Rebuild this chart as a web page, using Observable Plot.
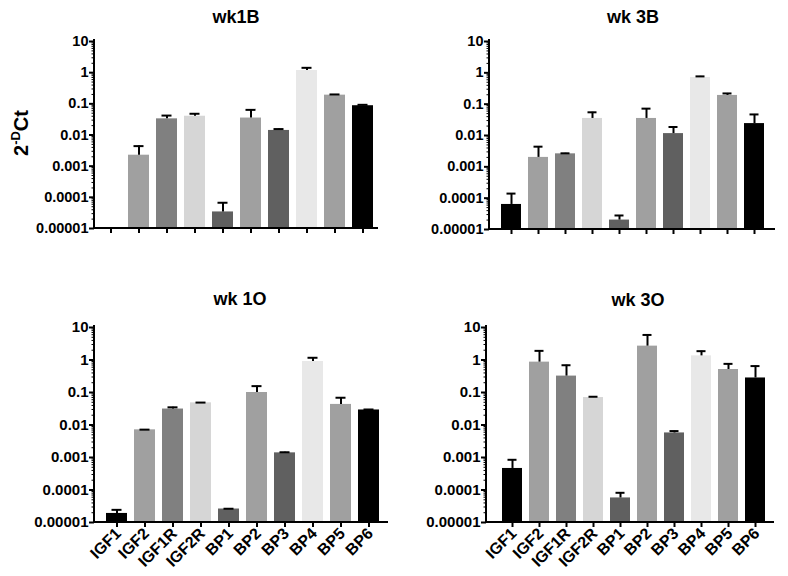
<!DOCTYPE html>
<html><head><meta charset="utf-8">
<script src="https://cdn.jsdelivr.net/npm/d3@7"></script>
<script src="https://cdn.jsdelivr.net/npm/@observablehq/plot@0.6"></script>
<style>
body{margin:0;background:#fff;}
#root{position:relative;width:788px;height:576px;overflow:hidden;font-family:"Liberation Sans",Arial,Helvetica,sans-serif;color:#000;}
.panel{position:absolute;}
.title{position:absolute;font-weight:bold;font-size:18px;transform:translate(-50%,-50%);white-space:nowrap;}
.ylab{position:absolute;font-weight:bold;font-size:20px;transform:translate(-50%,-50%) rotate(-90deg);white-space:nowrap;}
.ylab sup{font-size:13px;vertical-align:0.6em;line-height:0;}
</style></head><body><div id="root"></div>
<script>
const categories = ["IGF1","IGF2","IGF1R","IGF2R","BP1","BP2","BP3","BP4","BP5","BP6"];
const panelTitles = ["wk1B","wk 3B","wk 1O","wk 3O"];

const wk1B_mean = [null, 0.00225, 0.033, 0.040, 0.000034, 0.035, 0.014, 1.17, 0.19, 0.087];
const wk1B_top  = [null, 0.0044, 0.042, 0.048, 0.000067, 0.064, 0.0155, 1.43, 0.20, 0.093];

const wk3B_mean = [0.000063, 0.0020, 0.0026, 0.035, 0.000020, 0.035, 0.0115, 0.71, 0.19, 0.024];
const wk3B_top  = [0.00014, 0.0044, 0.0027, 0.055, 0.000028, 0.072, 0.0187, 0.77, 0.22, 0.047];

const wk1O_mean = [0.000019, 0.0071, 0.031, 0.048, 0.000026, 0.10, 0.00139, 0.90, 0.043, 0.029];
const wk1O_top  = [0.0000245, 0.0072, 0.035, 0.049, 0.0000265, 0.157, 0.00145, 1.17, 0.069, 0.030];

const wk3O_mean = [0.00046, 0.86, 0.32, 0.070, 0.000057, 2.67, 0.0057, 1.34, 0.51, 0.28];
const wk3O_top  = [0.00085, 1.91, 0.69, 0.074, 0.000082, 5.9, 0.0065, 1.87, 0.76, 0.65];

const yTickValues = [0.00001, 0.0001, 0.001, 0.01, 0.1, 1, 10];
const yTickLabels = ["0.00001", "0.0001", "0.001", "0.01", "0.1", "1", "10"];
const barGrays = ["#000000","#a0a0a0","#808080","#d6d6d6","#606060","#a0a0a0","#606060","#e8e8e8","#a0a0a0","#000000"];

const yLabelMap = new Map(yTickValues.map((v, i) => [v, yTickLabels[i]]));
const minorTicks = [];
for (let e = -5; e < 1; e++) for (let m = 2; m < 10; m++) minorTicks.push(m * Math.pow(10, e));

// layout (positions only)
const layouts = [
  {left: 0,   top: 0,   width: 394, height: 280, mL: 94, mR: 16, mT: 41, mB: 52, iL: 2,  iR: 2,  labels: false, fs: 14.5, tx: 236, ty: 17},
  {left: 394, top: 0,   width: 394, height: 280, mL: 95, mR: 13, mT: 41, mB: 51, iL: 7.3, iR: 5.3, labels: false, fs: 14.5, tx: 633, ty: 17},
  {left: 0,   top: 280, width: 394, height: 296, mL: 94, mR: 6,  mT: 47, mB: 54, iL: 4.7, iR: 2.7, labels: true, fs: 15, tx: 240, ty: 299},
  {left: 394, top: 280, width: 394, height: 296, mL: 92, mR: 14, mT: 47, mB: 54, iL: 11.3, iR: 3.3, labels: true, fs: 15, tx: 638, ty: 300}
];
const series = [[wk1B_mean, wk1B_top],[wk3B_mean, wk3B_top],[wk1O_mean, wk1O_top],[wk3O_mean, wk3O_top]];

function axisLines(index, scales, values, dimensions) {
  const {width, height, marginLeft, marginRight, marginTop, marginBottom} = dimensions;
  const g = d3.create("svg:g").attr("stroke", "black").attr("stroke-width", 2);
  g.append("line").attr("x1", marginLeft).attr("x2", marginLeft)
    .attr("y1", marginTop - 2).attr("y2", height - marginBottom + 1);
  g.append("line").attr("x1", marginLeft - 1).attr("x2", width - marginRight)
    .attr("y1", height - marginBottom).attr("y2", height - marginBottom);
  return g.node();
}

const root = document.getElementById("root");
layouts.forEach((L, k) => {
  const [means, tops] = series[k];
  const data = categories.map((c, i) => ({cat: c, mean: means[i], top: tops[i]})).filter(d => d.mean != null);
  const marks = [
    Plot.barY(data, {x: "cat", y1: yTickValues[0], y2: "mean", fill: "cat"}),
    Plot.ruleX(data, {x: "cat", y1: "mean", y2: "top", stroke: "black", strokeWidth: 2}),
    Plot.tickY(data, {x: "cat", y: "top", stroke: "black", strokeWidth: 2, insetLeft: 5.5, insetRight: 5.5}),
    Plot.axisY({ticks: minorTicks, tickSize: 2.5, tickFormat: () => "", strokeWidth: 1, label: null}),
    Plot.axisY({ticks: yTickValues, tickSize: 5, tickPadding: 1, tickFormat: d => yLabelMap.get(d), strokeWidth: 2, label: null, fontSize: L.fs, fontWeight: "bold"}),
    Plot.axisX({tickSize: 5, tickFormat: () => "", strokeWidth: 2, label: null}),
    axisLines
  ];
  if (L.labels) {
    marks.push(Plot.text(categories, {
      x: d => d, frameAnchor: "bottom", rotate: -45, textAnchor: "end",
      dx: 5, dy: 12, fontSize: 16, fontWeight: "bold", fill: "black"
    }));
  }
  const plot = Plot.plot({
    width: L.width, height: L.height,
    marginLeft: L.mL, marginRight: L.mR, marginTop: L.mT, marginBottom: L.mB,
    style: {fontFamily: '"Liberation Sans", Arial, Helvetica, sans-serif', fontSize: L.fs + "px", fontWeight: "bold", color: "black", background: "transparent", maxWidth: "none", overflow: "visible"},
    x: {domain: categories, paddingInner: 0.25, paddingOuter: 0.125, insetLeft: L.iL, insetRight: L.iR, label: null, axis: null},
    y: {type: "log", domain: [yTickValues[0], yTickValues[yTickValues.length - 1]], label: null, axis: null},
    color: {domain: categories, range: barGrays},
    marks
  });
  const div = document.createElement("div");
  div.className = "panel";
  div.style.left = L.left + "px"; div.style.top = L.top + "px";
  div.style.width = L.width + "px"; div.style.height = L.height + "px";
  div.appendChild(plot);
  root.appendChild(div);
  const t = document.createElement("div");
  t.className = "title";
  t.style.left = L.tx + "px"; t.style.top = L.ty + "px";
  t.textContent = panelTitles[k];
  root.appendChild(t);
});
const yl = document.createElement("div");
yl.className = "ylab";
yl.style.left = "21px"; yl.style.top = "133px";
yl.innerHTML = "2<sup>-D</sup>Ct";
root.appendChild(yl);
</script>
</body></html>
